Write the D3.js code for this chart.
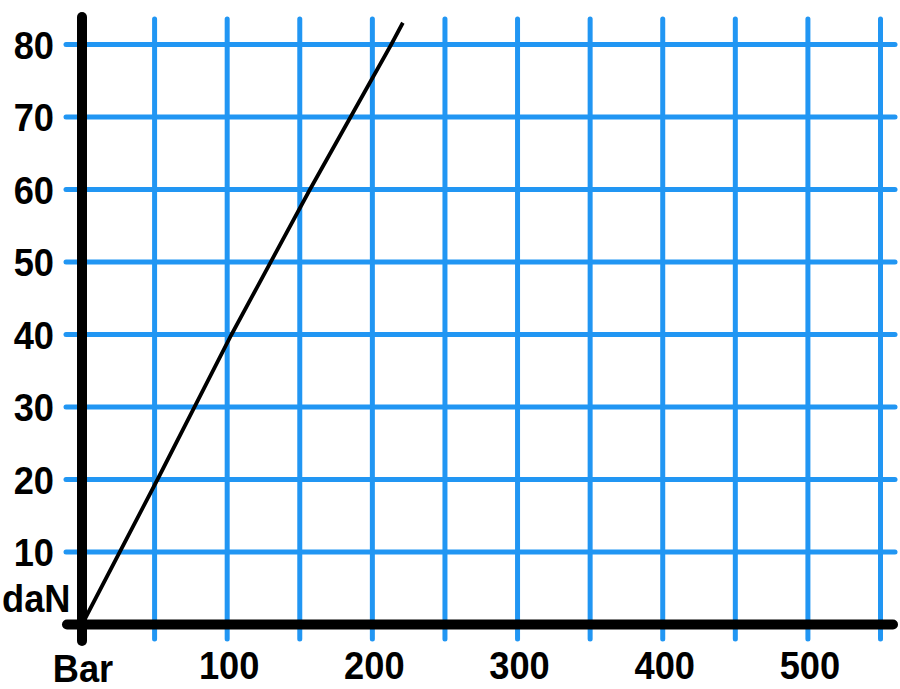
<!DOCTYPE html>
<html><head><meta charset="utf-8">
<script src="https://cdn.jsdelivr.net/npm/d3@7"></script>
<style>body{margin:0;background:#fff}svg{display:block}text{font-family:"Liberation Sans",Arial,sans-serif;font-weight:bold;fill:#000}</style>
</head><body>
<script>
const xTicks = [100, 200, 300, 400, 500];
const xGrid = [50, 100, 150, 200, 250, 300, 350, 400, 450, 500, 550];
const yTicks = [10, 20, 30, 40, 50, 60, 70, 80];
const xUnit = "Bar";
const yUnit = "daN";
const pressure = [0, 52, 103, 157, 213, 221];
const force = [0, 20, 40, 60, 80, 83];

const W = 900, H = 689;
const x = d3.scaleLinear().domain([0, 550]).range([82, 880.5]);
const y = d3.scaleLinear().domain([0, 80]).range([624.5, 44.5]);
const svg = d3.select("body").append("svg").attr("width", W).attr("height", H);
const blue = "#2196f3";
const FS = 39, SX = 0.93;

svg.append("g").selectAll("line").data(xGrid).join("line")
  .attr("x1", d => x(d)).attr("x2", d => x(d)).attr("y1", 19).attr("y2", 639)
  .attr("stroke", blue).attr("stroke-width", 5).attr("stroke-linecap", "round");
svg.append("g").selectAll("line").data(yTicks).join("line")
  .attr("y1", d => y(d)).attr("y2", d => y(d)).attr("x1", 66).attr("x2", 895)
  .attr("stroke", blue).attr("stroke-width", 5).attr("stroke-linecap", "round");

// axes
svg.append("line").attr("x1", x(0)).attr("x2", x(0)).attr("y1", 17).attr("y2", 641)
  .attr("stroke", "#000").attr("stroke-width", 10).attr("stroke-linecap", "round");
svg.append("line").attr("x1", 67).attr("x2", 893).attr("y1", y(0)).attr("y2", y(0))
  .attr("stroke", "#000").attr("stroke-width", 10).attr("stroke-linecap", "round");

// data line
svg.append("path").datum(pressure.map((p, i) => [p, force[i]]))
  .attr("d", d3.line().x(d => x(d[0])).y(d => y(d[1])))
  .attr("fill", "none").attr("stroke", "#000").attr("stroke-width", 3.8);

// y labels
svg.append("g").selectAll("text").data(yTicks).join("text")
  .attr("transform", d => `translate(54,${y(d) + 14}) scale(${SX},1)`)
  .attr("text-anchor", "end").attr("font-size", FS).text(d => d);
svg.append("text").attr("transform", `translate(2,612) scale(${SX},1)`)
  .attr("font-size", FS).text(yUnit);

// x labels
svg.append("g").selectAll("text").data(xTicks).join("text")
  .attr("transform", d => `translate(${x(d) + 2},679) scale(${SX},1)`)
  .attr("text-anchor", "middle").attr("font-size", FS).text(d => d);
svg.append("text").attr("transform", `translate(83,682) scale(${SX},1)`)
  .attr("text-anchor", "middle").attr("font-size", FS).text(xUnit);
</script>
</body></html>
